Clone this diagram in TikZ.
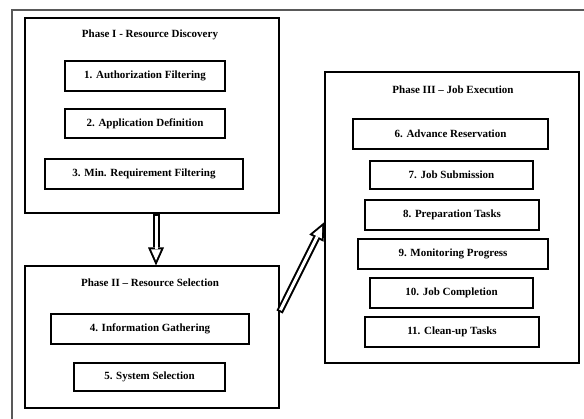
\documentclass[tikz,border=0pt]{standalone}
\usepackage{fontspec}
\setmainfont{Liberation Serif}
\usetikzlibrary{arrows.meta, positioning}

\begin{document}
\begin{tikzpicture}[
    x=1pt, y=-1pt,
    phase/.style={draw, line width=1.1pt, inner sep=0pt},
    task/.style={draw, line width=1.1pt, minimum height=30pt, inner sep=0pt, font=\bfseries\fontsize{11}{13}\selectfont},
    heading/.style={font=\bfseries\fontsize{11}{13}\selectfont},
    hollow/.style={line width=7pt, -{Triangle[length=18pt, width=16pt, line width=0pt 0 0]},
        postaction={draw=white, line width=3pt, shorten <=2pt, shorten >=4.9pt,
            -{Triangle[length=11.1pt, width=9.9pt, line width=0pt 0 0]}}},
]
    \useasboundingbox (0,0) rectangle (584,419);
    \draw[line width=1.4pt, black!65] (12,419) -- (12,10) -- (584,10);

    % Phase I
    \node[phase, minimum width=254pt, minimum height=195pt] (discovery) at (152,115.5) {};
    \node[heading] (discoverytitle) at (150,35) {Phase I - Resource Discovery};
    \node[task, minimum width=160pt] (authfilter) at (145,76) {1. Authorization Filtering};
    \node[task, minimum width=160pt, minimum height=29pt] (appdef) at (145,123.5) {2. Application Definition};
    \node[task, minimum width=198pt] (minreq) at (144,174) {3. Min. Requirement Filtering};

    % Phase II
    \node[phase, minimum width=254pt, minimum height=142pt] (selection) at (152,337) {};
    \node[heading] (selectiontitle) at (150,283) {Phase II -- Resource Selection};
    \node[task, minimum width=198pt] (infogather) at (150,329) {4. Information Gathering};
    \node[task, minimum width=151pt, minimum height=28pt] (syssel) at (149.5,377) {5. System Selection};

    % Phase III
    \node[phase, minimum width=254pt, minimum height=291pt] (execution) at (452,217.5) {};
    \node[heading] (executiontitle) at (453,90) {Phase III -- Job Execution};
    \node[task, minimum width=195pt] (reservation) at (450.5,134) {6. Advance Reservation};
    \node[task, minimum width=163pt, minimum height=28pt] (submission) at (451.5,175) {7. Job Submission};
    \node[task, minimum width=174pt] (preparation) at (452,215) {8. Preparation Tasks};
    \node[task, minimum width=190pt] (monitoring) at (453,254) {9. Monitoring Progress};
    \node[task, minimum width=163pt] (completion) at (451.5,293) {10. Job Completion};
    \node[task, minimum width=174pt] (cleanup) at (452,332) {11. Clean-up Tasks};

    % Flow between phases
    \draw[hollow] ([xshift=4pt]discovery.south) -- ([xshift=4pt]selection.north);
    \draw[hollow] ([yshift=25pt]selection.east) -- ([yshift=-4.5pt]execution.west);
\end{tikzpicture}
\end{document}
